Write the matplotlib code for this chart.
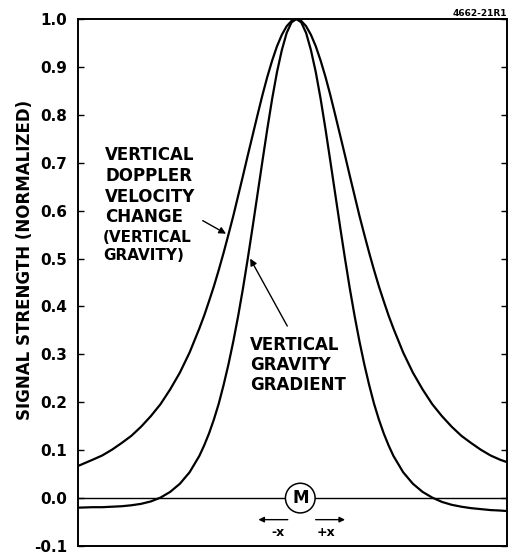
import matplotlib
matplotlib.use("Agg")
import matplotlib.pyplot as plt

# Horizontal position (in units of source depth, M at 0)
x_pos = [-2.25, -2.1, -2.0, -1.9, -1.8, -1.7, -1.6, -1.5, -1.4, -1.3, -1.2, -1.1,
         -1.0, -0.95, -0.9, -0.85, -0.8, -0.75, -0.7, -0.65, -0.6, -0.55, -0.5, -0.45,
         -0.4, -0.35, -0.3, -0.25, -0.2, -0.15, -0.1, -0.05, 0.0,
         0.05, 0.1, 0.15, 0.2, 0.25, 0.3, 0.35, 0.4, 0.45, 0.5, 0.55, 0.6, 0.65,
         0.7, 0.75, 0.8, 0.85, 0.9, 0.95, 1.0, 1.1, 1.2, 1.3, 1.4, 1.5, 1.6, 1.7,
         1.8, 1.9, 2.0, 2.1, 2.17]
# Vertical gravity (vertical Doppler velocity change), normalized
vertical_gravity = [0.067, 0.080, 0.089, 0.101, 0.115, 0.130, 0.149, 0.171, 0.196, 0.227,
                    0.262, 0.304, 0.354, 0.381, 0.411, 0.442, 0.476, 0.512, 0.550, 0.589,
                    0.631, 0.673, 0.716, 0.758, 0.800, 0.841, 0.879, 0.913, 0.943, 0.967,
                    0.985, 0.996, 1.000,
                    0.996, 0.985, 0.967, 0.943, 0.913, 0.879, 0.841, 0.800, 0.758, 0.716,
                    0.673, 0.631, 0.589, 0.550, 0.512, 0.476, 0.442, 0.411, 0.381, 0.354,
                    0.304, 0.262, 0.227, 0.196, 0.171, 0.149, 0.130, 0.115, 0.101, 0.089,
                    0.080, 0.075]
# Vertical gravity gradient, normalized
gravity_gradient = [-0.020, -0.019, -0.019, -0.018, -0.017, -0.015, -0.012, -0.007, 0.001,
                    0.013, 0.030, 0.054, 0.088, 0.110, 0.135, 0.164, 0.197, 0.236, 0.279,
                    0.327, 0.380, 0.438, 0.501, 0.567, 0.635, 0.703, 0.770, 0.833, 0.889,
                    0.935, 0.971, 0.993, 1.000,
                    0.993, 0.971, 0.935, 0.889, 0.833, 0.770, 0.703, 0.635, 0.567, 0.501,
                    0.438, 0.380, 0.327, 0.279, 0.236, 0.197, 0.164, 0.135, 0.110, 0.088,
                    0.054, 0.030, 0.013, 0.001, -0.008, -0.014, -0.018, -0.021, -0.023,
                    -0.025, -0.026, -0.027]

y_ticks = [-0.1, 0.0, 0.1, 0.2, 0.3, 0.4, 0.5, 0.6, 0.7, 0.8, 0.9, 1.0]
y_ticklabels = ["-0.1", "0.0", "0.1", "0.2", "0.3", "0.4", "0.5", "0.6", "0.7", "0.8", "0.9", "1.0"]

plt.rcParams['font.family'] = ['DejaVu Sans']

fig = plt.figure(figsize=(5.12, 5.55), dpi=100)
ax = fig.add_axes([78/512, 1 - 546/555, (507 - 78)/512, (546 - 19)/555])

ax.plot(x_pos, vertical_gravity, color='black', lw=1.6, solid_joinstyle='round')
ax.plot(x_pos, gravity_gradient, color='black', lw=1.6, solid_joinstyle='round')
ax.axhline(0.0, color='black', lw=1.0)

ax.set_xlim(-2.25, 2.17)
ax.set_ylim(-0.1, 1.0)
ax.set_xticks([])
ax.set_yticks(y_ticks)
ax.set_yticklabels(y_ticklabels, fontsize=11, fontweight='bold')
ax.tick_params(axis='y', direction='in', length=4, width=1, left=True, right=True, pad=8)
for s in ax.spines.values():
    s.set_linewidth(1.4)

fig.text(25/512, 1 - 260/555, "SIGNAL STRENGTH (NORMALIZED)", fontsize=12,
         fontweight='bold', rotation=90, ha='center', va='center')

# Annotations
ax.text(-1.97, 0.735, "VERTICAL\nDOPPLER\nVELOCITY\nCHANGE", fontsize=12, fontweight='semibold',
        ha='left', va='top', linespacing=1.2)
ax.text(-1.99, 0.560, "(VERTICAL\nGRAVITY)", fontsize=11, fontweight='semibold',
        ha='left', va='top', linespacing=1.25)
ax.annotate("", xy=(-0.70, 0.549), xytext=(-0.99, 0.582),
            arrowprops=dict(arrowstyle='-|>', color='black', lw=1.0, mutation_scale=10))

ax.text(-0.474, 0.338, "VERTICAL\nGRAVITY\nGRADIENT", fontsize=12, fontweight='semibold',
        ha='left', va='top', linespacing=1.15)
ax.annotate("", xy=(-0.49, 0.505), xytext=(-0.08, 0.354),
            arrowprops=dict(arrowstyle='-|>', color='black', lw=1.0, mutation_scale=10))

ax.text(0.04, 0.0, "M", fontsize=12, fontweight='bold', ha='center', va='center',
        bbox=dict(boxstyle='circle,pad=0.35', fc='white', ec='black', lw=1.1), zorder=5)

ax.annotate("", xy=(-0.42, -0.045), xytext=(-0.06, -0.045),
            arrowprops=dict(arrowstyle='-|>', color='black', lw=1.0, mutation_scale=8))
ax.annotate("", xy=(0.53, -0.045), xytext=(0.17, -0.045),
            arrowprops=dict(arrowstyle='-|>', color='black', lw=1.0, mutation_scale=8))
ax.text(-0.185, -0.072, "-x", fontsize=9, fontweight='bold', ha='center', va='center')
ax.text(0.30, -0.072, "+x", fontsize=9, fontweight='bold', ha='center', va='center')

fig.text(507/512, 1 - 13/555, "4662-21R1", fontsize=6.5, fontweight='bold', ha='right', va='center')

fig.savefig("out.png", dpi=100)
